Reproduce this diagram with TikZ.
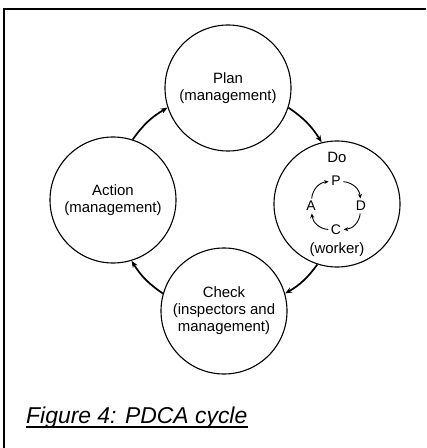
\documentclass[tikz,border=0pt]{standalone}
\usepackage{fontspec}
\setmainfont{Liberation Sans}
\usetikzlibrary{arrows.meta}

\begin{document}
\begin{tikzpicture}[x=1bp,y=1bp]
	\tikzstyle{every node}+=[inner sep=0pt, font=\fontsize{15}{17}\selectfont]
	\tikzstyle{phase}=[draw, circle, line width=1.1bp, minimum size=126bp, align=center]
	\tikzstyle{letter}=[inner sep=2.5bp, font=\fontsize{14}{15}\selectfont]
	\tikzstyle{flow}=[line width=1.7bp, -{Stealth[length=7bp,width=5.5bp]}]
	\tikzstyle{turn}=[line width=0.9bp, -{Stealth[length=4.5bp,width=4bp]}]
	\useasboundingbox (0,0) rectangle (426,-448);
	% frame
	\draw [line width=1.5bp] (4,-448) -- (4,-9) -- (426,-9);
	% the four phases
	\node [phase] (plan) at (228,-88) {Plan\\(management)};
	\node [phase] (do) at (337,-204) {};
	\node [phase] (check) at (224,-311) {Check\\(inspectors and\\management)};
	\node [phase] (action) at (113,-200) {Action\\(management)};
	\node (dotitle) at (337,-157) {Do};
	\node (worker) at (337,-250) {(worker)};
	% small cycle inside Do
	\node [letter] (p) at (336,-181) {P};
	\node [letter] (d) at (361,-206) {D};
	\node [letter] (c) at (336,-230) {C};
	\node [letter] (a) at (311,-206) {A};
	\draw [turn] (a) to [bend left=40] (p);
	\draw [turn] (p) to [bend left=40] (d);
	\draw [turn] (d) to [bend left=40] (c);
	\draw [turn] (c) to [bend left=40] (a);
	% big cycle
	\draw [flow] (plan.-18) to [bend left=12] (do.104);
	\draw [flow] (do.-108) to [bend left=12] (check.16);
	\draw [flow] (check.164) to [bend left=12] (action.-73);
	\draw [flow] (action.72) to [bend left=12] (plan.-162);
	% caption
	\node [anchor=base west, font=\fontsize{23}{27}\selectfont\itshape] (caption) at (26,-423) {Figure 4: PDCA cycle};
	\draw [line width=1.3bp] ([yshift=-4bp]caption.base west) -- ([yshift=-4bp]caption.base east);
\end{tikzpicture}
\end{document}
